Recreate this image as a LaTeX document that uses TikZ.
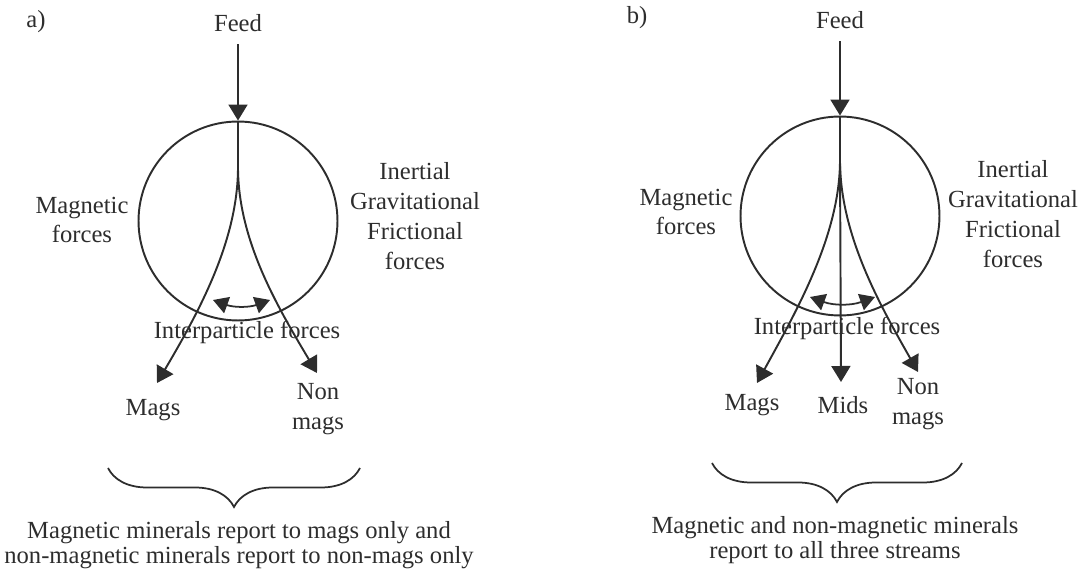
\documentclass[tikz,border=0pt]{standalone}
\usepackage{fontspec}
\setmainfont{Liberation Serif}
\usetikzlibrary{arrows.meta,decorations.pathreplacing}
\definecolor{inkgray}{RGB}{45,45,45}
\tikzset{
  txt/.style={font=\fontsize{14}{17}\selectfont,text=inkgray,inner sep=0pt,align=center},
  caption/.style={font=\fontsize{14}{14}\selectfont,text=inkgray,inner sep=0pt,align=center},
  vessel/.style={draw=inkgray,circle,line width=1.1pt,minimum size=3.98cm,inner sep=0pt},
  flow/.style={-{Triangle[length=3.2mm,width=3.8mm]},line width=1.1pt,draw=inkgray},
  force/.style={{Triangle[length=3mm,width=3.4mm]}-{Triangle[length=3mm,width=3.4mm]},line width=1pt,draw=inkgray},
  stem/.style={line width=1.4pt,draw=inkgray},
  group/.style={decorate,decoration={brace,amplitude=7.8mm},line width=1pt,draw=inkgray}
}

\begin{document}
\begin{tikzpicture}[x=0.02cm,y=-0.02cm]
\useasboundingbox (0,0) rectangle (1090,573);
% (a) Mags and non mags
\node[txt] (tagA) at (36,22) {a)};
\node[txt] (feedA) at (238,23) {Feed};
\node[vessel] (sepA) at (238,221) {};
\coordinate (splitA) at (238,167);
\coordinate (tipMA) at (157,383);
\coordinate (tipNA) at (317,373);
\coordinate (ipLA) at (213,300);
\coordinate (ipRA) at (270,300);
\draw[flow,shorten <=7pt] (feedA.south) -- (sepA.north);
\draw[stem] (sepA.north) -- (splitA);
\draw[flow] (splitA) .. controls (238,240) and (200,310) .. (tipMA);
\draw[flow] (splitA) .. controls (238,240) and (277,306) .. (tipNA);
\draw[force] (ipLA) to[bend right=20] (ipRA);
\node[txt] (magfA) at (82,220) {Magnetic\\forces};
\node[txt] (bulkA) at (415,216) {Inertial\\Gravitational\\Frictional\\forces};
\node[txt] (ipA) at (247,332) {Interparticle forces};
\node[txt] (magsA) at (153,410) {Mags};
\node[txt] (nonA) at (318,409) {Non\\mags};
\draw[group] (360,468) -- (108,468);
\node[caption] (noteA) at (239,545) {Magnetic minerals report to mags only and\\non-magnetic minerals report to non-mags only};
% (b) Three streams
\node[txt] (tagB) at (637,18) {b)};
\node[txt] (feedB) at (840,20) {Feed};
\node[vessel] (sepB) at (840,216) {};
\coordinate (splitB) at (840,160);
\coordinate (tipMB) at (757,383);
\coordinate (tipDB) at (841,382);
\coordinate (tipNB) at (918,372);
\coordinate (ipLB) at (810,297);
\coordinate (ipRB) at (875,297);
\draw[flow,shorten <=7pt] (feedB.south) -- (sepB.north);
\draw[stem] (sepB.north) -- (splitB);
\draw[flow] (splitB) .. controls (840,235) and (797,310) .. (tipMB);
\draw[flow] (splitB) -- (tipDB);
\draw[flow] (splitB) .. controls (840,235) and (880,305) .. (tipNB);
\draw[force] (ipLB) to[bend right=20] (ipRB);
\node[txt] (magfB) at (686,212) {Magnetic\\forces};
\node[txt] (bulkB) at (1013,214) {Inertial\\Gravitational\\Frictional\\forces};
\node[txt] (ipB) at (847,328) {Interparticle forces};
\node[txt] (magsB) at (752,405) {Mags};
\node[txt] (midsB) at (843,405) {Mids};
\node[txt] (nonB) at (918,404) {Non\\mags};
\draw[group] (962,463) -- (712,463);
\node[caption] (noteB) at (835,540) {Magnetic and non-magnetic minerals\\report to all three streams};
\end{tikzpicture}
\end{document}
